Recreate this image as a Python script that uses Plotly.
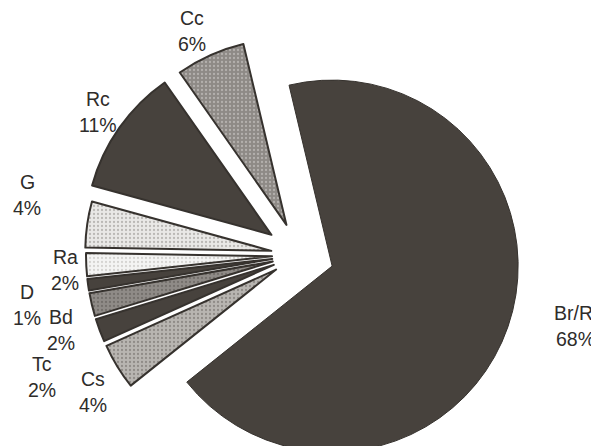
import numpy as np
import plotly.graph_objects as go

# shares of each group (%), clockwise from the top
labels = ["Br/Rl", "Cs", "Tc", "Bd", "D", "Ra", "G", "Rc", "Cc"]
values = [68, 4, 2, 2, 1, 2, 4, 11, 6]

# look of each wedge
fill_colors = ["#47423d", "#b8b5b1", "#47423d", "#8f8b87", "#47423d",
               "#f4f4f3", "#e9e8e6", "#47423d", "#8e8a86"]
dot_colors = ["#47423d", "#66625e", "#47423d", "#57534f", "#47423d",
              "#b5b3b0", "#8a8784", "#47423d", "#d8d6d3"]
shapes = ["", ".", "", ".", "", ".", ".", "", "."]

# how far each wedge is pulled out of the pie (px)
explode = [34, 28, 28, 28, 28, 28, 29, 35, 33]

# where the labels sit (px from the top-left of the page)
label_xy = [(575, 326), (93, 392), (42, 377), (61, 330), (27, 305),
            (65, 270), (27, 195), (98, 112), (192, 31)]

PAD = 8          # default body margin of the html page
W, H = 599, 480
R = 186
cx0, cy0 = 300 - PAD, 255 - PAD
start = -13.4

frac = np.array(values) / sum(values)
mid = start + 360 * (np.cumsum(frac) - frac / 2)

fig = go.Figure()
n = len(labels)
for i in range(n):
    a = np.radians(mid[i])
    cx = cx0 + explode[i] * np.sin(a)
    cy = cy0 - explode[i] * np.cos(a)

    colors = ["rgba(0,0,0,0)"] * n
    colors[i] = fill_colors[i]
    fg = ["rgba(0,0,0,0)"] * n
    fg[i] = dot_colors[i]
    shp = [""] * n
    shp[i] = shapes[i]
    lw = [0] * n
    lw[i] = 1 if i == 0 else 2

    fig.add_trace(go.Pie(
        labels=labels, values=values, sort=False,
        direction="clockwise", rotation=start,
        domain=dict(x=[(cx - R) / W, (cx + R) / W],
                    y=[1 - (cy + R) / H, 1 - (cy - R) / H]),
        marker=dict(colors=colors,
                    line=dict(color="#36322e", width=lw),
                    pattern=dict(shape=shp, fgcolor=fg, size=4,
                                 solidity=0.25, fillmode="overlay")),
        textinfo="none", showlegend=False,
        hoverinfo="label+percent",
    ))

font = dict(family="Liberation Sans, Arial", size=19.5, color="#2e2c2a")
for lab, v, (x, y) in zip(labels, values, label_xy):
    x, y = x - PAD, y - PAD
    for txt, dy in ((lab, -13), (f"{v}%", 13)):
        fig.add_annotation(
            x=x / W, y=1 - (y + dy) / H, xref="paper", yref="paper",
            text=txt, showarrow=False,
            xanchor="center", yanchor="middle", font=font,
        )

fig.update_layout(
    width=W, height=H,
    margin=dict(l=0, r=0, t=0, b=0),
    paper_bgcolor="white",
    plot_bgcolor="white",
)

fig.write_html("out.html")
